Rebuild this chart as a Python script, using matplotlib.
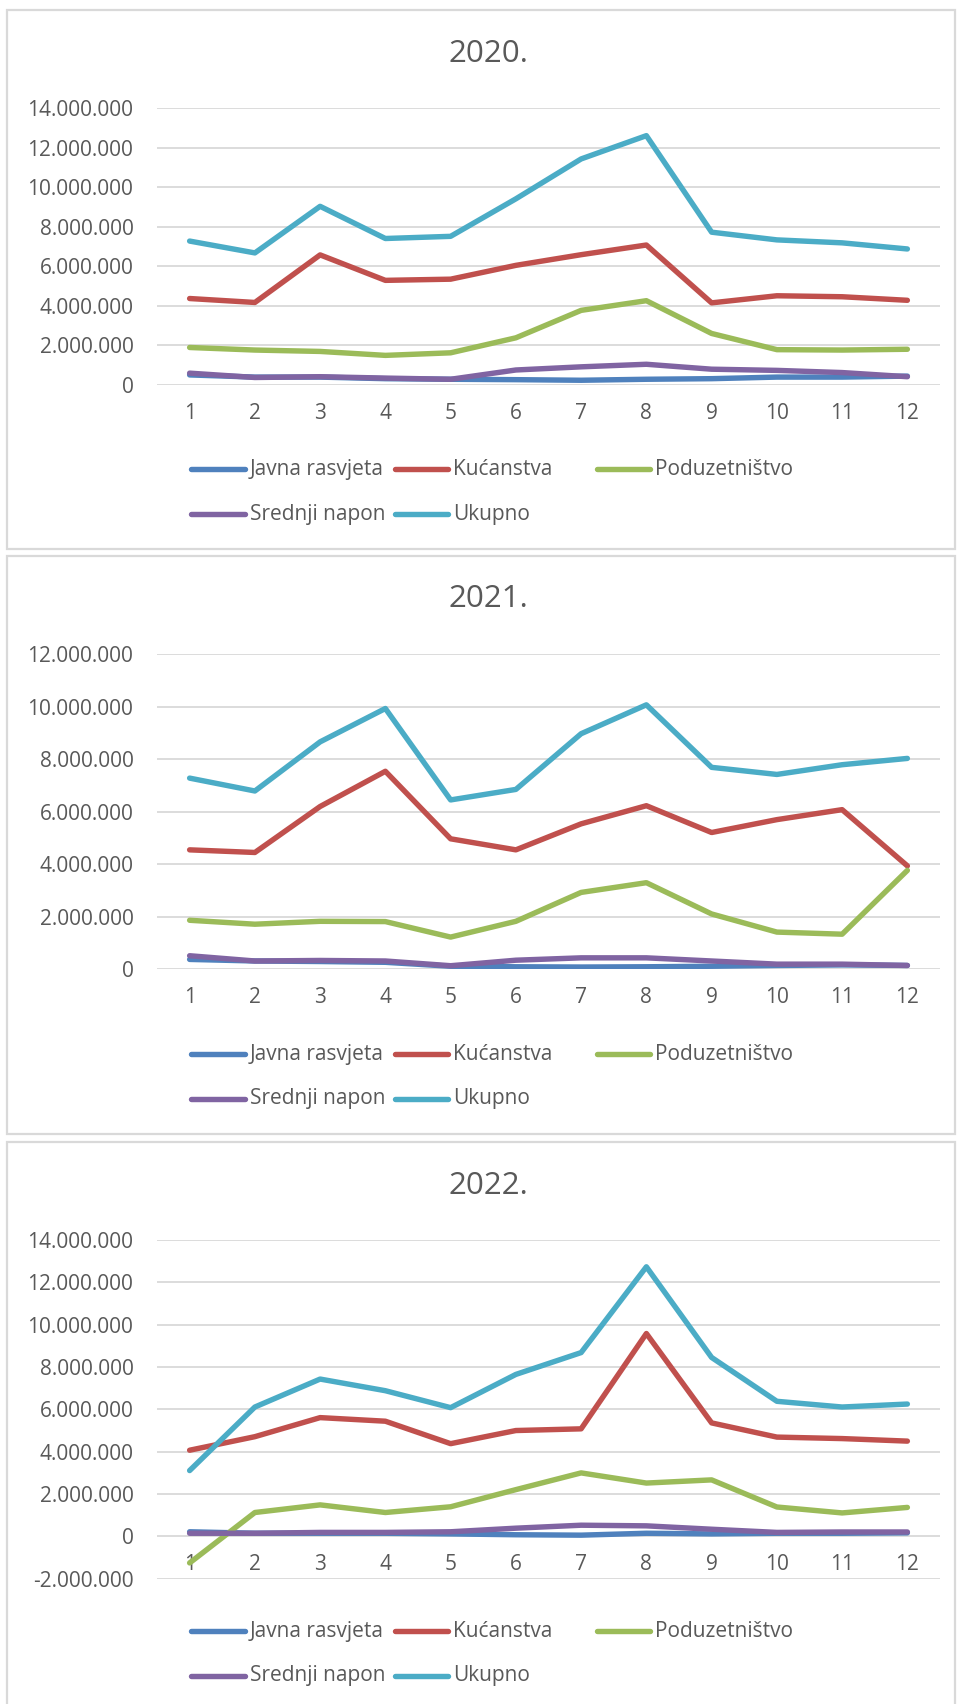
import matplotlib
matplotlib.use("Agg")
import matplotlib.pyplot as plt
from matplotlib.lines import Line2D
from matplotlib.patches import Rectangle
from matplotlib.ticker import FuncFormatter, MultipleLocator

plt.rcParams['font.family'] = ['Open Sans', 'DejaVu Sans']

months = list(range(1, 13))
series_names = ["Javna rasvjeta", "Kućanstva", "Poduzetništvo", "Srednji napon", "Ukupno"]
colors = ["#4F81BD", "#C0504D", "#9BBB59", "#8064A2", "#4BACC6"]

# 2020
javna_2020 = [490000, 380000, 380000, 300000, 270000, 250000, 220000, 270000, 300000, 380000, 380000, 430000]
kuc_2020 = [4360000, 4160000, 6570000, 5280000, 5340000, 6040000, 6580000, 7070000, 4140000, 4500000, 4450000, 4270000]
pod_2020 = [1880000, 1750000, 1680000, 1480000, 1610000, 2370000, 3760000, 4250000, 2590000, 1770000, 1750000, 1790000]
sred_2020 = [580000, 360000, 400000, 330000, 270000, 740000, 900000, 1030000, 780000, 720000, 610000, 400000]
ukup_2020 = [7270000, 6670000, 9030000, 7400000, 7510000, 9410000, 11430000, 12610000, 7720000, 7330000, 7180000, 6870000]

# 2021
javna_2021 = [380000, 320000, 300000, 270000, 120000, 100000, 90000, 100000, 120000, 150000, 170000, 150000]
kuc_2021 = [4550000, 4450000, 6200000, 7540000, 4970000, 4550000, 5540000, 6230000, 5210000, 5700000, 6080000, 3940000]
pod_2021 = [1870000, 1720000, 1830000, 1820000, 1230000, 1830000, 2930000, 3300000, 2110000, 1420000, 1340000, 3770000]
sred_2021 = [520000, 320000, 340000, 320000, 140000, 350000, 440000, 440000, 320000, 200000, 200000, 150000]
ukup_2021 = [7280000, 6790000, 8660000, 9930000, 6450000, 6850000, 8970000, 10070000, 7690000, 7420000, 7790000, 8030000]

# 2022
javna_2022 = [220000, 150000, 150000, 150000, 120000, 80000, 60000, 150000, 120000, 150000, 150000, 170000]
kuc_2022 = [4070000, 4710000, 5610000, 5440000, 4380000, 5000000, 5080000, 9580000, 5360000, 4690000, 4620000, 4500000]
pod_2022 = [-1250000, 1130000, 1490000, 1130000, 1400000, 2210000, 3000000, 2520000, 2670000, 1390000, 1110000, 1370000]
sred_2022 = [150000, 150000, 190000, 190000, 220000, 390000, 530000, 500000, 340000, 190000, 210000, 210000]
ukup_2022 = [3110000, 6110000, 7430000, 6880000, 6080000, 7650000, 8680000, 12730000, 8450000, 6380000, 6110000, 6250000]

years = ["2020.", "2021.", "2022."]
year_data = [
    [javna_2020, kuc_2020, pod_2020, sred_2020, ukup_2020],
    [javna_2021, kuc_2021, pod_2021, sred_2021, ukup_2021],
    [javna_2022, kuc_2022, pod_2022, sred_2022, ukup_2022],
]
ylims = [(0, 14000000), (0, 12000000), (-2000000, 14000000)]

W, H = 957, 1704
DPI = 100
fig = plt.figure(figsize=(W / DPI, H / DPI), dpi=DPI)

TXT = "#595959"
GRID = "#D9D9D9"

# layout in pixels
plot_left, plot_right = 157, 940
axes_tb = [(108.2, 384.6), (654.1, 969.4), (1239.9, 1578.8)]
frames = [(10, 548.5), (555.5, 1133.5), (1141.5, 1712)]
title_y = [54, 599.4, 1185.8]
legend_rows = [(469.3, 514), (1054.4, 1098.8), (1631.4, 1675.6)]
leg_cols = [(191, 245, 250), (395, 448, 453), (597, 650, 655)]


def fx(x):
    return x / W


def fy(y):
    return 1 - y / H


fmt = FuncFormatter(lambda v, p: f"{int(round(v)):,}".replace(",", "."))

for i in range(3):
    # frame
    ft, fb = frames[i]
    fig.add_artist(Rectangle((fx(7), fy(fb)), fx(955) - fx(7), fy(ft) - fy(fb),
                             transform=fig.transFigure, fill=False,
                             edgecolor=GRID, lw=1.6, zorder=0))
    top, bot = axes_tb[i]
    ax = fig.add_axes([fx(plot_left), fy(bot), fx(plot_right) - fx(plot_left), fy(top) - fy(bot)])
    for s, name, c in zip(year_data[i], series_names, colors):
        ax.plot(months, s, color=c, lw=3.9, solid_capstyle='round',
                solid_joinstyle='round', label=name, zorder=3)
    ax.set_xlim(0.5, 12.5)
    ax.set_ylim(*ylims[i])
    ax.yaxis.set_major_locator(MultipleLocator(2000000))
    ax.yaxis.set_major_formatter(fmt)
    ax.grid(axis='y', color=GRID, lw=1.3, zorder=0)
    ax.set_axisbelow(True)
    for sp in ['top', 'right', 'left']:
        ax.spines[sp].set_visible(False)
    ax.spines['bottom'].set_position(('data', 0))
    ax.spines['bottom'].set_visible(False)
    ax.set_xticks(months)
    ax.set_xticklabels([str(m) for m in months])
    ax.tick_params(axis='x', length=0, pad=13, labelsize=15, labelcolor=TXT)
    ax.tick_params(axis='y', length=0, pad=17, labelsize=15, labelcolor=TXT)

    fig.text(fx(488), fy(title_y[i]), years[i], ha='center', va='center',
             fontsize=22.5, color=TXT)

    # legend
    r1, r2 = legend_rows[i]
    pos = [(0, r1), (1, r1), (2, r1), (0, r2), (1, r2)]
    for (col, ry), name, c in zip(pos, series_names, colors):
        x0, x1, xt = leg_cols[col]
        fig.add_artist(Line2D([fx(x0), fx(x1)], [fy(ry), fy(ry)], transform=fig.transFigure,
                              color=c, lw=3.9, solid_capstyle='round'))
        fig.text(fx(xt), fy(ry), name, ha='left', va='center', fontsize=15, color=TXT)

fig.savefig("out.png", dpi=DPI, facecolor="white")
